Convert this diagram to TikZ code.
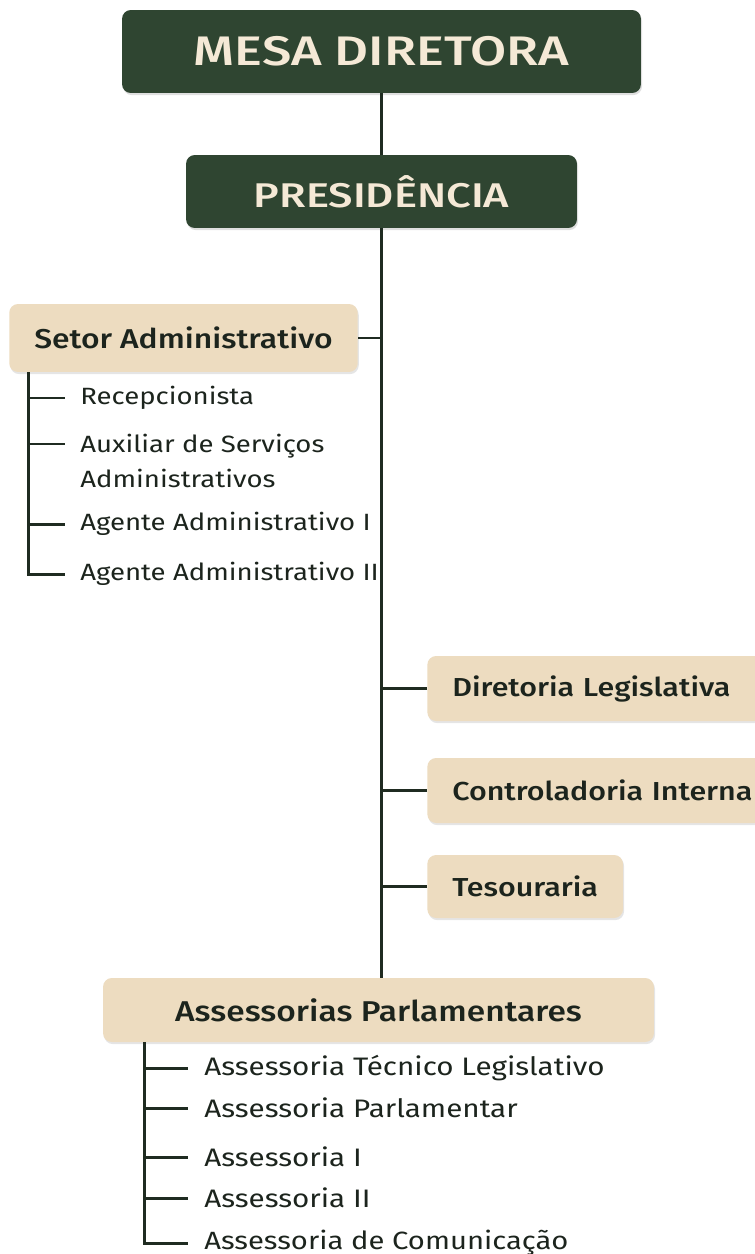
\documentclass[tikz,border=0pt]{standalone}
\usepackage{fontspec}
\setmainfont{Fira Sans}[BoldFont={Fira Sans Medium}, FakeStretch=1.17]
\newfontfamily\chefefont{Fira Sans Medium}[FakeStretch=1.27]
\usetikzlibrary{positioning, calc, shadows}
\definecolor{mesagreen}{HTML}{2F4531}
\definecolor{creamtext}{HTML}{F5E9D6}
\definecolor{setorbeige}{HTML}{EDDCC0}
\definecolor{linegreen}{HTML}{1F2B21}
\definecolor{itemtext}{HTML}{1C241D}

\tikzset{
  chefebox/.style={fill=mesagreen, text=creamtext, rounded corners=5pt,
    drop shadow={opacity=0.25, shadow xshift=0.6pt, shadow yshift=-1.2pt}},
  setorbox/.style={fill=setorbeige, text=itemtext, rounded corners=5pt, inner xsep=0.5cm,
    font=\bfseries\fontsize{15.5}{18}\selectfont,
    drop shadow={opacity=0.2, shadow xshift=0.6pt, shadow yshift=-1.2pt}},
  ladobox/.style={setorbox, anchor=west, font=\bfseries\fontsize{14.8}{18}\selectfont},
  leafitem/.style={anchor=west, text=itemtext, inner ysep=0pt, align=left,
    font=\fontsize{13.4}{19.5}\selectfont},
  ramo/.style={draw=linegreen, line width=1.7pt}
}

\begin{document}
\begin{tikzpicture}[x=0.02cm, y=-0.02cm]
	\useasboundingbox[fill=white] (0,0) rectangle (754,1254);
	
	% topo
	\node[chefebox, minimum width=10.38cm, minimum height=1.66cm, font=\chefefont\fontsize{23.5}{28}\selectfont] (mesa) at (381.5,51.5) {MESA DIRETORA};
	\node[chefebox, minimum width=7.82cm, minimum height=1.46cm, font=\chefefont\fontsize{19.5}{24}\selectfont] (pres) at (381.5,191.5) {PRESIDÊNCIA};
	
	% setores
	\node[setorbox, minimum width=6.94cm, minimum height=1.36cm] (setor) at (183.5,338) {Setor Administrativo};
	\node[ladobox, text width=6.5cm, align=left, minimum height=1.3cm] (dirleg) at (427,688.5) {Diretoria Legislativa};
	\node[ladobox, text width=6.5cm, align=left, minimum height=1.3cm] (control) at (427,790.5) {Controladoria Interna};
	\node[ladobox, minimum height=1.26cm] (tesou) at (427,886.5) {Tesouraria};
	\node[setorbox, minimum width=11.02cm, minimum height=1.28cm, font=\bfseries\fontsize{16.3}{19}\selectfont] (assess) at (378.5,1010) {Assessorias Parlamentares};
	
	% cargos do setor administrativo
	\node[leafitem, inner xsep=0.3cm] (recep) at (65,398) {Recepcionista};
	\node[leafitem, inner xsep=0.3cm] (aux) at (65,461) {Auxiliar de Serviços\\Administrativos};
	\node[leafitem, inner xsep=0.3cm] (agente1) at (65,524) {Agente Administrativo I};
	\node[leafitem, inner xsep=0.3cm] (agente2) at (65,574) {Agente Administrativo II};
	
	% cargos das assessorias
	\node[leafitem, inner xsep=0.32cm, font=\fontsize{14.4}{19}\selectfont] (tecleg) at (188,1068) {Assessoria Técnico Legislativo};
	\node[leafitem, inner xsep=0.32cm, font=\fontsize{14.4}{19}\selectfont] (parlam) at (188,1108) {Assessoria Parlamentar};
	\node[leafitem, inner xsep=0.32cm, font=\fontsize{14.4}{19}\selectfont] (assesI) at (188,1157) {Assessoria I};
	\node[leafitem, inner xsep=0.32cm, font=\fontsize{14.4}{19}\selectfont] (assesII) at (188,1198) {Assessoria II};
	\node[leafitem, inner xsep=0.32cm, font=\fontsize{14.2}{19}\selectfont] (comunic) at (188,1243) {Assessoria de Comunicação};
	
	% ligacoes
	\draw[ramo] (mesa.south) -- (pres.north);
	\draw[ramo] (pres.south) -- (pres.south |- assess.north);
	\draw[ramo] (setor.east) -- (setor.east -| pres.south);
	\foreach \n in {dirleg, control, tesou}
		\draw[ramo] (\n.west) -- (\n.west -| pres.south);
	
	\coordinate (setorbus) at ($(setor.south west)+(20,0)$);
	\path (aux.west) ++(0,-17) coordinate (auxtick);
	\draw[ramo] (setorbus) |- (agente2.west);
	\foreach \n in {recep.west, auxtick, agente1.west}
		\draw[ramo] (setorbus |- \n) -- (\n);
	
	\coordinate (assessbus) at ($(assess.south west)+(42,0)$);
	\draw[ramo] (assessbus) |- (comunic.west);
	\foreach \n in {tecleg, parlam, assesI, assesII}
		\draw[ramo] (assessbus |- \n.west) -- (\n.west);
\end{tikzpicture}
\end{document}
